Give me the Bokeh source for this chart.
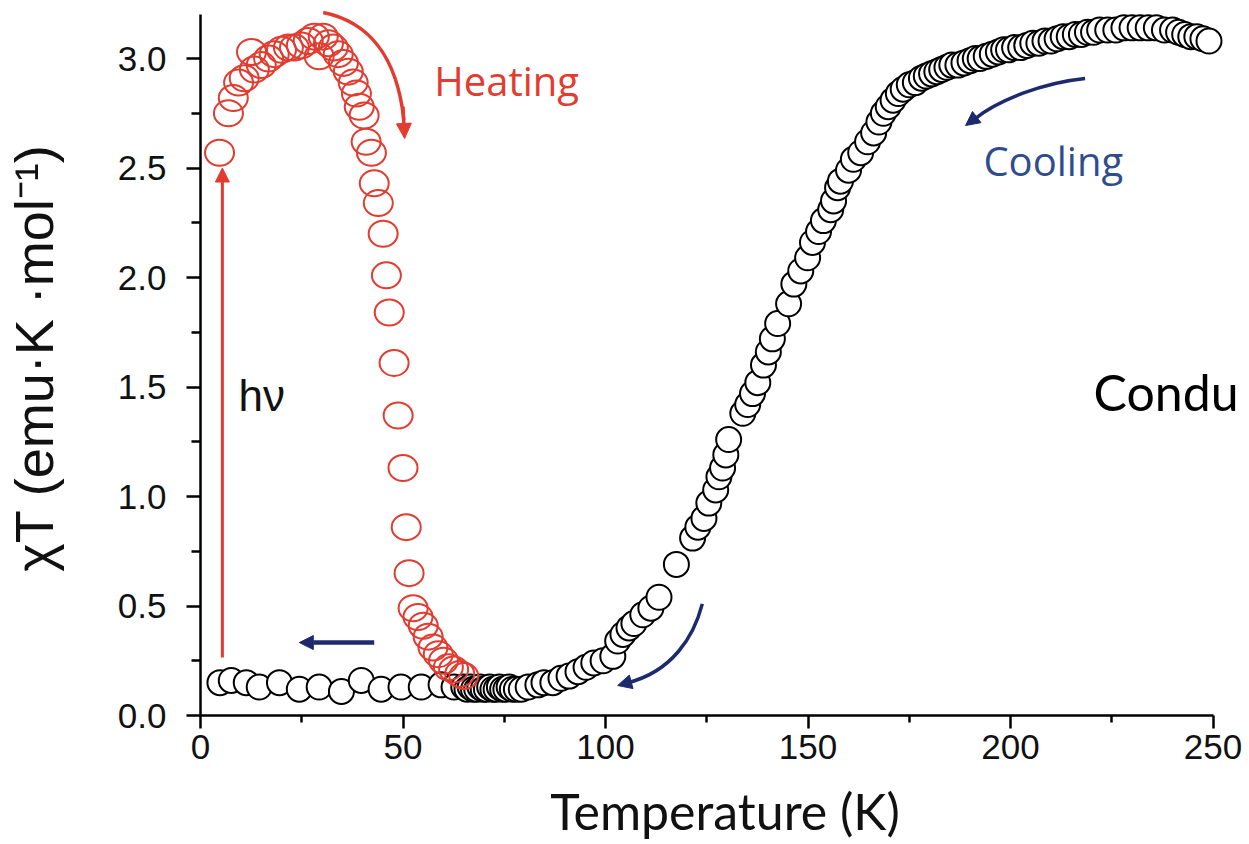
from bokeh.plotting import figure
from bokeh.models import Range1d, Label, Arrow, NormalHead, FixedTicker, NumeralTickFormatter
from bokeh.embed import file_html
from bokeh.resources import INLINE

# ---------------- data ----------------
cool_T = [4.8, 7.6, 11.3, 14.5, 19.5, 24.4, 29.3, 34.8, 39.7, 44.6, 49.5, 54.5, 59.4, 62.6,
          65.0, 65.8, 66.6, 67.4, 68.2, 69.0, 69.8, 70.6, 71.4, 72.2, 73.0, 73.8, 74.6, 75.4, 76.2, 77.0, 78.0, 79.2,
          80.9, 83.3, 84.8, 87.0, 89.0, 91.0, 93.2, 95.2, 97.1, 99.4, 101.8, 103.0, 104.3, 105.8, 107.0, 109.2, 111.2, 113.2,
          117.5, 121.5, 122.8, 124.3, 125.5, 127.2, 128.0, 128.9, 129.7, 130.4, 133.9, 135.1, 136.3, 137.6,
          139.0, 140.2, 141.2, 142.5, 145.2, 146.5, 148.2, 149.9, 151.1, 152.6, 153.8, 155.6, 156.3, 157.3, 158.0, 160.0,
          161.2, 163.0, 164.7, 166.2,
          167.5, 168.6, 169.8, 171.0, 172.3, 173.5, 175.0, 176.5, 178.0, 179.2,
          180.5, 181.8, 183.0, 184.3, 185.5, 187.0, 188.5, 190.0, 191.3, 192.5,
          194.0, 195.5, 197.0, 198.3, 199.5, 201.0, 202.5, 204.0, 205.5, 207.0,
          208.5, 210.0, 211.5, 213.0, 214.5, 216.0, 217.5, 219.0, 220.5, 222.0,
          224.0, 226.0, 228.0, 230.0, 232.0, 234.0, 236.0, 238.0, 240.0, 241.5,
          243.0, 244.5, 246.0, 247.5, 249.0]
cool_chiT = [0.15, 0.16, 0.15, 0.13, 0.15, 0.12, 0.13, 0.11, 0.16, 0.12, 0.13, 0.13, 0.14, 0.13,
             0.13, 0.12, 0.13, 0.12, 0.12, 0.13, 0.12, 0.12, 0.13, 0.12, 0.12, 0.13, 0.12, 0.12, 0.13, 0.12, 0.12, 0.12,
             0.13, 0.14, 0.15, 0.15, 0.17, 0.18, 0.20, 0.22, 0.24, 0.25, 0.27, 0.34, 0.37, 0.40, 0.42, 0.46, 0.49, 0.54,
             0.69, 0.81, 0.86, 0.90, 0.97, 1.03, 1.09, 1.13, 1.19, 1.26, 1.38, 1.42, 1.47, 1.52,
             1.60, 1.66, 1.72, 1.79, 1.88, 1.97, 2.03, 2.09, 2.16, 2.21, 2.26, 2.31, 2.35, 2.41, 2.44, 2.49,
             2.54, 2.57, 2.62, 2.66,
             2.71, 2.75, 2.78, 2.81, 2.84, 2.86, 2.88, 2.89, 2.91, 2.92,
             2.93, 2.94, 2.95, 2.96, 2.97, 2.97, 2.98, 2.99, 3.00, 3.00,
             3.01, 3.02, 3.03, 3.04, 3.04, 3.05, 3.05, 3.06, 3.07, 3.07,
             3.08, 3.08, 3.09, 3.10, 3.10, 3.11, 3.11, 3.12, 3.12, 3.13,
             3.13, 3.13, 3.14, 3.14, 3.14, 3.14, 3.14, 3.13, 3.13, 3.12,
             3.11, 3.10, 3.10, 3.09, 3.08]

heat_T = [4.7, 6.9, 8.1, 9.4, 10.8, 12.6, 13.3, 15.0, 16.8, 18.2,
          20.0, 21.7, 23.2, 24.9, 26.6, 28.1, 29.3, 30.3, 31.6, 32.8,
          34.0, 35.3, 36.5, 37.7, 38.5, 39.2, 40.4, 40.9, 42.2, 42.9,
          43.9, 45.1, 45.9, 46.6, 47.8, 48.8, 50.0, 50.8, 51.5, 52.5,
          53.7, 55.0, 56.2, 57.4, 58.7, 60.0, 61.2, 62.5, 64.0, 65.0]
heat_chiT = [2.57, 2.75, 2.82, 2.89, 2.91, 3.03, 2.95, 2.97, 3.00, 3.02,
             3.04, 3.05, 3.05, 3.06, 3.08, 3.10, 3.01, 3.10, 3.07, 3.05,
             3.02, 2.98, 2.94, 2.89, 2.84, 2.78, 2.74, 2.62, 2.57, 2.43,
             2.34, 2.20, 2.01, 1.84, 1.61, 1.37, 1.13, 0.86, 0.65, 0.49,
             0.45, 0.41, 0.36, 0.31, 0.28, 0.25, 0.22, 0.21, 0.19, 0.18]

x_ticks = [0, 50, 100, 150, 200, 250]
y_ticks = [0.0, 0.5, 1.0, 1.5, 2.0, 2.5, 3.0]
x_axis_end = 250
y_axis_end = 3.2

RED = "#e23b2f"
NAVY = "#1d2a6e"
BLUE_TXT = "#2f4d8c"

# ---------------- figure ----------------
# the frame runs past the drawn axes (axis bounds) so that the slide text on the right is not clipped
p = figure(width=1249, height=844, output_backend="svg", toolbar_location=None,
           x_range=Range1d(0, 259.0), y_range=Range1d(0, 3.265),
           min_border_left=199, min_border_right=0, min_border_top=0, min_border_bottom=129)
p.outline_line_color = None
p.grid.visible = False
p.background_fill_color = "white"
p.border_fill_color = "white"

x_minor = [(a + b) / 2 for a, b in zip(x_ticks[:-1], x_ticks[1:])]
y_minor = [(a + b) / 2 for a, b in zip(y_ticks[:-1], y_ticks[1:])]
p.xaxis.ticker = FixedTicker(ticks=x_ticks, minor_ticks=x_minor)
p.yaxis.ticker = FixedTicker(ticks=y_ticks, minor_ticks=y_minor)
p.yaxis.formatter = NumeralTickFormatter(format="0.0")
p.xaxis.formatter = NumeralTickFormatter(format="0")
p.xaxis.bounds = (0, x_axis_end)
p.yaxis.bounds = (0, y_axis_end)

for ax in (p.xaxis, p.yaxis):
    ax.axis_line_width = 2.5
    ax.axis_line_color = "black"
    ax.major_tick_line_width = 2.5
    ax.minor_tick_line_width = 2.5
    ax.major_tick_line_color = "black"
    ax.minor_tick_line_color = "black"
    ax.major_tick_in = 0
    ax.minor_tick_in = 0
    ax.major_label_text_font = "Liberation Sans"
    ax.major_label_text_font_size = "35px"
    ax.major_label_text_color = "#111111"
    ax.axis_label_text_font_style = "normal"
    ax.axis_label_text_color = "#111111"

p.xaxis.major_tick_out = 13
p.xaxis.minor_tick_out = 7
p.yaxis.major_tick_out = 14
p.yaxis.minor_tick_out = 9
p.xaxis.major_label_standoff = 6
p.yaxis.major_label_standoff = 20

p.xaxis.axis_label = "Temperature (K)"
p.xaxis.axis_label_text_font = "Lato"
p.xaxis.axis_label_text_font_size = "50px"
p.xaxis.axis_label_standoff = 19

p.yaxis.axis_label = "\u03c7T (emu\u00b7K \u00b7mol\u207b\u00b9)"
p.yaxis.axis_label_text_font = "Liberation Sans"
p.yaxis.axis_label_text_font_size = "54px"
p.yaxis.axis_label_standoff = 51

# ---------------- data marks ----------------
p.scatter(cool_T, cool_chiT, marker="circle", size=25, line_color="black",
          line_width=2, fill_color="white")
p.ellipse(heat_T, heat_chiT, width=29, height=26, width_units="screen", height_units="screen",
          line_color=RED, line_width=2, fill_color=None)

# ---------------- arrows ----------------
# h-nu excitation arrow
p.add_layout(Arrow(end=NormalHead(size=14, fill_color=RED, line_color=RED),
                   x_start=5.4, y_start=0.265, x_end=5.4, y_end=2.50,
                   line_color=RED, line_width=3))
# heating curved arrow
p.bezier(x0=[30.3], y0=[3.21], x1=[50.2], y1=[2.72], cx0=[41.0], cy0=[3.17], cx1=[48.5], cy1=[3.02],
         line_color=RED, line_width=3.5)
p.add_layout(Arrow(end=NormalHead(size=15, fill_color=RED, line_color=RED),
                   x_start=50.0, y_start=2.78, x_end=50.4, y_end=2.635,
                   line_color=RED, line_width=3.5))
# straight cooling arrow at low T
p.add_layout(Arrow(end=NormalHead(size=14, fill_color=NAVY, line_color=NAVY),
                   x_start=42.9, y_start=0.333, x_end=24.4, y_end=0.333,
                   line_color=NAVY, line_width=4.5))
# curved cooling arrow near 110 K
p.bezier(x0=[123.9], y0=[0.51], x1=[105.2], y1=[0.148], cx0=[121.8], cy0=[0.36], cx1=[116.5], cy1=[0.20],
         line_color=NAVY, line_width=3.5)
p.add_layout(Arrow(end=NormalHead(size=14, fill_color=NAVY, line_color=NAVY),
                   x_start=106.0, y_start=0.152, x_end=103.0, y_end=0.137,
                   line_color=NAVY, line_width=3.5))
# curved cooling arrow near 200 K
p.bezier(x0=[218.4], y0=[2.909], x1=[191.2], y1=[2.725], cx0=[208.0], cy0=[2.89], cx1=[197.0], cy1=[2.81],
         line_color=NAVY, line_width=3.5)
p.add_layout(Arrow(end=NormalHead(size=14, fill_color=NAVY, line_color=NAVY),
                   x_start=191.6, y_start=2.732, x_end=188.9, y_end=2.694,
                   line_color=NAVY, line_width=3.5))

# ---------------- text ----------------
p.add_layout(Label(x=57.7, y=2.90, text="Heating", text_font="Open Sans", text_font_size="40px",
                   text_color=RED, text_baseline="alphabetic", text_align="left"))
p.add_layout(Label(x=193.3, y=2.534, text="Cooling", text_font="Open Sans", text_font_size="40px",
                   text_color=BLUE_TXT, text_baseline="alphabetic", text_align="left"))
p.add_layout(Label(x=9.4, y=1.463, text="h\u03bd", text_font="Liberation Sans", text_font_size="44px",
                   text_color="#111111", text_baseline="alphabetic", text_align="left"))
p.add_layout(Label(x=220.5, y=1.475, text="Condu", text_font="Lato", text_font_size="50px",
                   text_color="black", text_baseline="alphabetic", text_align="left"))

open("out.html", "w").write(file_html(p, INLINE))
